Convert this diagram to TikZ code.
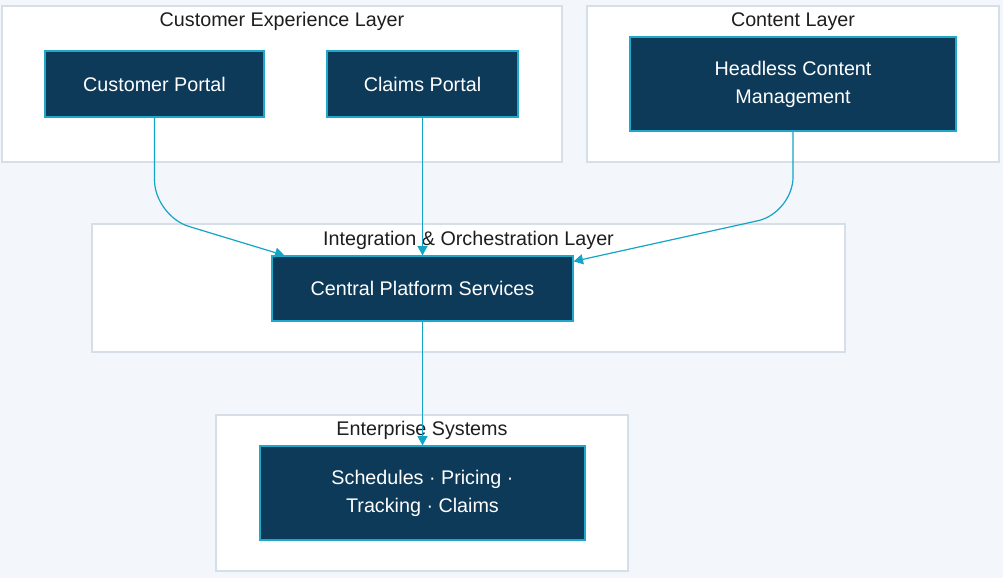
\documentclass[tikz,border=0pt]{standalone}
\usepackage{fontspec}
\setmainfont{Liberation Sans}
\usetikzlibrary{positioning,arrows.meta}
\definecolor{pagebg}{HTML}{F3F6FA}
\definecolor{layerline}{HTML}{D6DFE8}
\definecolor{titletext}{HTML}{1E1E1E}
\definecolor{nodefill}{HTML}{0E3A59}
\definecolor{nodeline}{HTML}{1FA8C9}
\definecolor{flowline}{HTML}{13A5C6}

\begin{document}
\begin{tikzpicture}[x=0.75pt,y=-0.75pt,node distance=153.4pt,
		layer/.style={draw=layerline,fill=white,line width=1pt,inner sep=0pt},
		layertitle/.style={text=titletext,font=\fontsize{14.8}{21}\selectfont,inner sep=0pt},
		service/.style={draw=nodeline,fill=nodefill,text=white,line width=1pt,
			font=\fontsize{14.8}{21}\selectfont,align=center,inner sep=0pt},
		flow/.style={draw=flowline,line width=0.9pt,-{Triangle[length=7pt,width=7.5pt]}}]
		\useasboundingbox (0,0) rectangle (1003,578);
		\fill[pagebg] (0,0) rectangle (1003,578);

		% layers
		\node[layer,minimum width=420pt,minimum height=117pt] (cxl) at (282,84) {};
		\node[layer,minimum width=309pt,minimum height=117pt] (ctl) at (793,84) {};
		\node[layer,minimum width=564.75pt,minimum height=96pt] (iol) at (468.5,288) {};
		\node[layer,minimum width=309pt,minimum height=117pt] (esl) at (422,493) {};

		\node[layertitle] (cxlt) at (282,21.5) {Customer Experience Layer};
		\node[layertitle] (ctlt) at (793,21.5) {Content Layer};
		\node[layertitle] (iolt) at (468.5,240.5) {Integration \& Orchestration Layer};
		\node[layertitle] (eslt) at (422,430.5) {Enterprise Systems};

		% services
		\node[service,minimum width=143.25pt,minimum height=49.5pt] (clp) at (422.5,84) {Claims Portal};
		\node[service,minimum width=164.25pt,minimum height=49.5pt,left of=clp,node distance=201pt] (cp) {Customer Portal};
		\node[service,minimum width=244.5pt,minimum height=70.5pt,right of=clp,node distance=277.9pt] (hcm) {Headless Content\\Management};
		\node[service,minimum width=225.75pt,minimum height=48.75pt,below of=clp] (cps) {Central Platform Services};
		\node[service,minimum width=243.75pt,minimum height=70.5pt,below of=cps] (ent) {Schedules · Pricing ·\\Tracking · Claims};

		\coordinate (cpturn) at (154.5,216);
		\coordinate (hcmturn) at (793,213);

		\draw[flow] (clp) -- (cps);
		\draw[flow] (cps) -- (ent);
		\draw[flow,rounded corners=27pt] (cp.south) -- (cpturn) -- ([xshift=9.75pt]cps.north west);
		\draw[flow,rounded corners=27pt] (hcm.south) -- (hcmturn) -- ([yshift=-4.5pt]cps.north east);
	\end{tikzpicture}
\end{document}
